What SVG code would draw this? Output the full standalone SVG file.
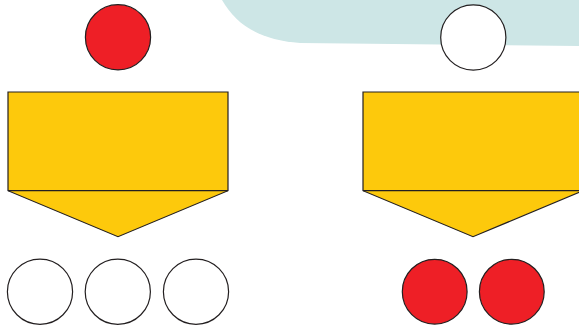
<svg xmlns="http://www.w3.org/2000/svg" width="579" height="328" viewBox="0 0 579 328">
<style>
.c{stroke:#231f20;stroke-width:1.2}
.red{fill:#ee1f26}
.white{fill:#ffffff}
.y{fill:#fdc90c;stroke:#231f20;stroke-width:1.2;stroke-linejoin:miter}
</style>
<rect width="579" height="328" fill="#ffffff"/>
<path d="M222,0 C236,24 258,40 300,43 L579,46 L579,0 Z" fill="#cde6e6"/>
<g id="top-red"><circle class="c red" cx="118" cy="37.3" r="32.6"/></g>
<g id="top-white"><circle class="c white" cx="473.3" cy="37.5" r="32.6"/></g>
<g id="left-shape">
<path class="y" d="M8,92 L228,92 L228,190.7 L118,236.7 L8,190.7 Z"/>
<line class="c" x1="8" y1="190.7" x2="228" y2="190.7"/>
</g>
<g id="right-shape">
<path class="y" d="M363,92 L583,92 L583,190.7 L473,236.7 L363,190.7 Z"/>
<line class="c" x1="363" y1="190.7" x2="583" y2="190.7"/>
</g>
<g id="bl1"><circle class="c white" cx="40" cy="291.7" r="32.6"/></g>
<g id="bl2"><circle class="c white" cx="117.8" cy="291.7" r="32.6"/></g>
<g id="bl3"><circle class="c white" cx="196" cy="291.7" r="32.6"/></g>
<g id="br1"><circle class="c red" cx="434.7" cy="291.7" r="32.4"/></g>
<g id="br2"><circle class="c red" cx="511.8" cy="291.7" r="32.4"/></g>
<g id="connectors"></g>
</svg>
